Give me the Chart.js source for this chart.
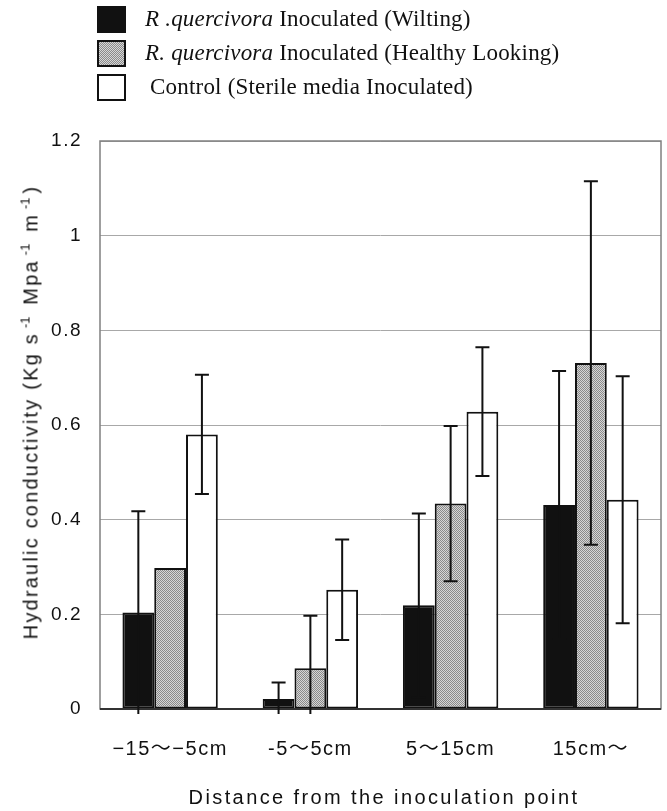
<!DOCTYPE html>
<html>
<head>
<meta charset="utf-8">
<script src="https://cdn.jsdelivr.net/npm/chart.js@4.4.1/dist/chart.umd.min.js"></script>
<style>
    body { margin: 0; background: #fff; }
    #wrap { position: relative; width: 667px; height: 811px; }
    #chart { position: absolute; left: 0; top: 0; }
    .legend-row { position: absolute; left: 97px; height: 28px; display: flex; align-items: center;
        font-family: "Liberation Serif", "Times New Roman", serif; font-size: 23px; color: #111; letter-spacing: 0.2px; }
    .swatch { width: 25px; height: 23px; border: 2px solid #111; margin-right: 19px; box-sizing: content-box; }
    .ytitle { position: absolute; left: 31px; top: 412px; transform: translate(-50%, -50%) rotate(-90deg);
        white-space: nowrap; font-family: "Liberation Sans", Arial, sans-serif; font-size: 20px; letter-spacing: 2.2px; color: #111; }
    .xtitle { position: absolute; left: 384px; top: 797px; transform: translate(-50%, -50%);
        white-space: nowrap; font-family: "Liberation Sans", Arial, sans-serif; font-size: 20px; letter-spacing: 2.4px; color: #111; }
    sup { font-size: 13px; position: relative; top: -2px; vertical-align: top; letter-spacing: 0; margin-left: 4px; margin-right: 4px; }
</style>
</head>
<body>
<div id="wrap">
    <canvas id="chart" width="667" height="811"></canvas>
    <div class="legend-row" style="top:5px"><span class="swatch" id="sw0"></span><span><i>R .quercivora</i> Inoculated (Wilting)</span></div>
    <div class="legend-row" style="top:39px"><span class="swatch" id="sw1"></span><span><i>R. quercivora</i> Inoculated (Healthy Looking)</span></div>
    <div class="legend-row" style="top:73px"><span class="swatch" id="sw2" style="margin-right:24px"></span><span>Control (Sterile media Inoculated)</span></div>
    <div class="ytitle">Hydraulic conductivity (Kg s<sup>-1</sup> Mpa<sup>-1</sup> m<sup>-1</sup>)</div>
    <div class="xtitle">Distance from the inoculation point</div>
</div>
<script>
const categories = ['\u221215\uFF5E\u22125cm', '-5\uFF5E5cm', '5\uFF5E15cm', '15cm\uFF5E'];
const wilting = [0.204, 0.021, 0.219, 0.431];
const healthy = [0.298, 0.086, 0.434, 0.731];
const control = [0.580, 0.252, 0.628, 0.442];
const wiltingErr = [0.214, 0.035, 0.194, 0.283];
const healthyErr = [null, 0.111, 0.164, 0.384];
const controlErr = [0.126, 0.106, 0.136, 0.261];
const yTicks = [0, 0.2, 0.4, 0.6, 0.8, 1, 1.2];

// checkerboard grey used for the "healthy looking" bars
const pc = document.createElement('canvas');
pc.width = 2; pc.height = 2;
const px = pc.getContext('2d');
px.fillStyle = '#d6d6d6'; px.fillRect(0, 0, 2, 2);
px.fillStyle = '#8a8a8a'; px.fillRect(0, 0, 1, 1); px.fillRect(1, 1, 1, 1);
const ctx = document.getElementById('chart').getContext('2d');
const grey = ctx.createPattern(pc, 'repeat');

document.getElementById('sw0').style.background = '#111';
document.getElementById('sw1').style.background = 'url(' + pc.toDataURL() + ')';
document.getElementById('sw2').style.background = '#fff';

const errors = [wiltingErr, healthyErr, controlErr];

const errorBars = {
    id: 'errorBars',
    afterDatasetsDraw(chart) {
        const c = chart.ctx;
        const y = chart.scales.y;
        const area = chart.chartArea;
        c.save();
        c.strokeStyle = '#111';
        c.lineWidth = 2;
        chart.data.datasets.forEach((ds, i) => {
            chart.getDatasetMeta(i).data.forEach((bar, j) => {
                const e = errors[i][j];
                if (e == null) return;
                const m = ds.data[j];
                const top = y.getPixelForValue(m + e);
                const low = m - e;
                const bot = low < 0 ? area.bottom + 5 : y.getPixelForValue(low);
                c.beginPath();
                c.moveTo(bar.x, top); c.lineTo(bar.x, bot);
                c.moveTo(bar.x - 7, top); c.lineTo(bar.x + 7, top);
                if (low >= 0) { c.moveTo(bar.x - 7, bot); c.lineTo(bar.x + 7, bot); }
                c.stroke();
            });
        });
        c.restore();
    }
};

const frame = {
    id: 'frame',
    beforeDraw(chart) { chart.ctx.letterSpacing = '1.5px'; },
    beforeDatasetsDraw(chart) {
        const a = chart.chartArea, c = chart.ctx;
        c.save();
        c.strokeStyle = '#808080';
        c.lineWidth = 1.5;
        c.strokeRect(a.left, a.top, a.right - a.left, a.bottom - a.top);
        c.restore();
    },
    afterDatasetsDraw(chart) {
        const a = chart.chartArea, c = chart.ctx;
        c.save();
        c.strokeStyle = '#333';
        c.lineWidth = 2;
        c.beginPath(); c.moveTo(a.left, a.bottom); c.lineTo(a.right, a.bottom); c.stroke();
        c.restore();
    }
};

new Chart(ctx, {
    type: 'bar',
    data: {
        labels: categories,
        datasets: [
            { label: 'Wilting', data: wilting, backgroundColor: '#111', borderColor: '#111', borderWidth: 2 },
            { label: 'Healthy Looking', data: healthy, backgroundColor: grey, borderColor: '#111', borderWidth: 2 },
            { label: 'Control', data: control, backgroundColor: '#fff', borderColor: '#111', borderWidth: 2 }
        ]
    },
    options: {
        responsive: false,
        animation: false,
        devicePixelRatio: 1,
        layout: { padding: { top: 141, right: 6, left: 0, bottom: 0 } },
        datasets: { bar: { categoryPercentage: 0.68, barPercentage: 1.0, borderSkipped: false } },
        plugins: { legend: { display: false }, tooltip: { enabled: false } },
        scales: {
            x: {
                grid: { display: false, drawTicks: false },
                border: { display: false },
                ticks: { color: '#111', padding: 28, maxRotation: 0,
                    font: { family: '"Liberation Sans", "Noto Sans CJK JP", sans-serif', size: 20 } },
                afterFit(s) { s.height = 102; }
            },
            y: {
                min: 0, max: 1.2,
                afterBuildTicks(s) { s.ticks = yTicks.map(v => ({ value: v })); },
                grid: { color: '#a8a8a8', lineWidth: 1, drawTicks: false },
                border: { display: false },
                ticks: { color: '#111', padding: 18, font: { family: 'Liberation Sans', size: 19 },
                    callback: v => String(v) },
                afterFit(s) { s.width = 100; }
            }
        }
    },
    plugins: [frame, errorBars]
});
</script>
</body>
</html>
